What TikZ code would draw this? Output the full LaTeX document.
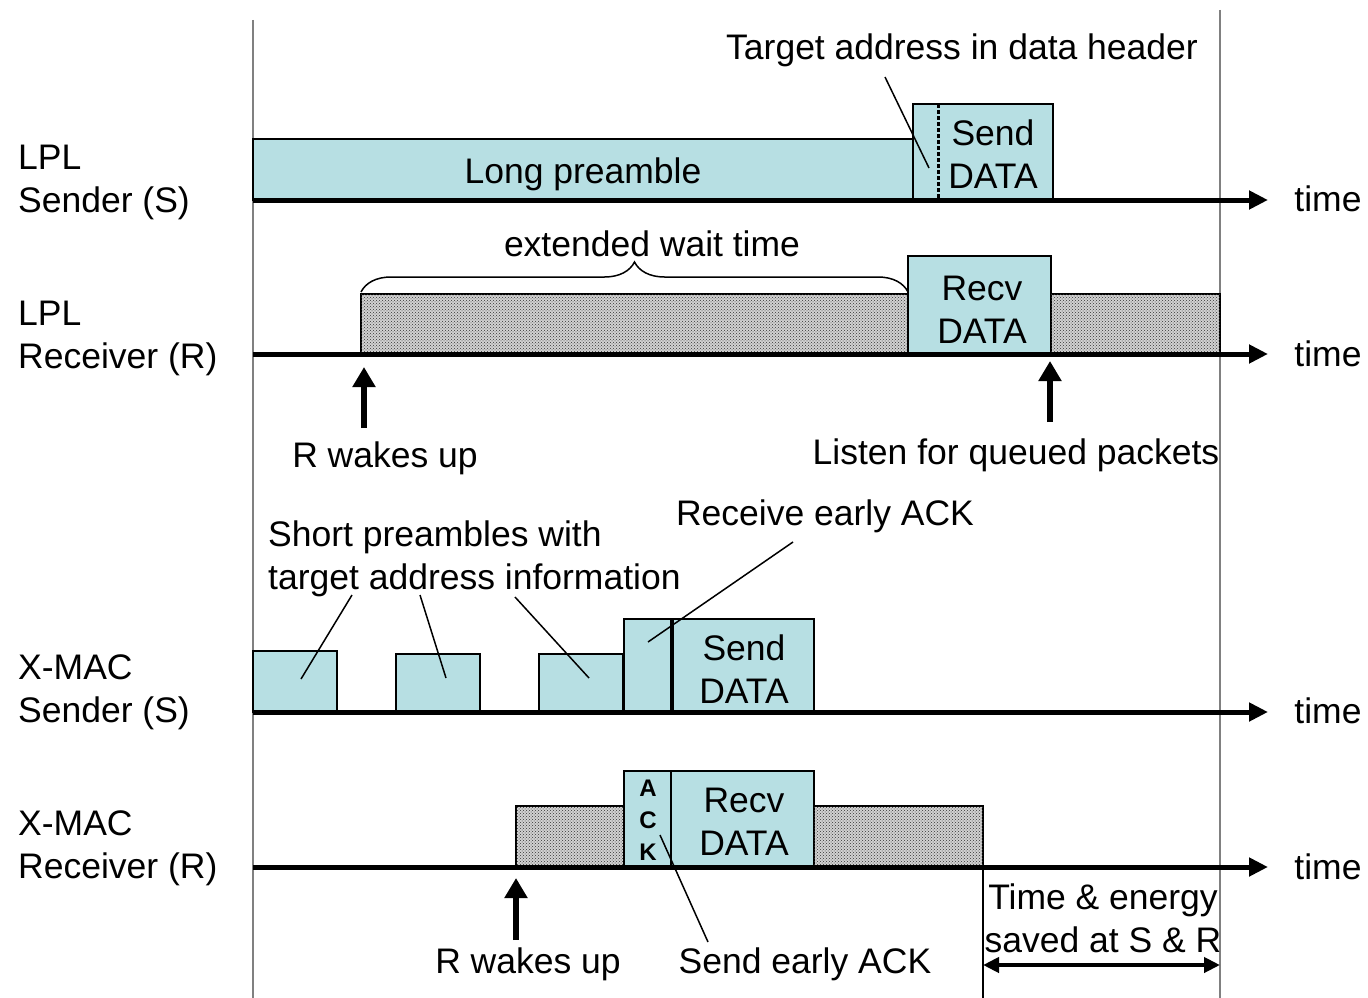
\documentclass[tikz,border=0pt]{standalone}
\usepackage{fontspec}
\setmainfont{Liberation Sans}
\usetikzlibrary{arrows.meta,decorations.pathreplacing,patterns}
\definecolor{boxblue}{RGB}{183,223,227}
\definecolor{guide}{RGB}{128,128,128}

\begin{document}
\begin{tikzpicture}[x=1pt, y=-1pt,
    font=\fontsize{35.5}{43}\selectfont,
    txt/.style={inner sep=0pt, align=center},
    lbl/.style={inner sep=0pt, align=left, anchor=west},
    axis/.style={line width=5pt, -{Triangle[length=19pt,width=18pt]}},
    databox/.style={draw, line width=2.5pt, fill=boxblue},
    idlebox/.style={draw, line width=2.5pt, fill=gray!35, postaction={pattern=crosshatch dots, pattern color=black!80}},
    wake/.style={line width=6pt, -{Triangle[length=20pt,width=22pt]}},
    leader/.style={line width=1.5pt},
    guideline/.style={draw=guide, line width=2pt}]
    \useasboundingbox (0,0) rectangle (1368,998);

    % guide lines
    \coordinate (ga) at (253,20);
    \coordinate (gb) at (253,998);
    \coordinate (gc) at (1220,10);
    \coordinate (gd) at (1220,998);
    \draw[guideline] (ga) -- (gb);
    \draw[guideline] (gc) -- (gd);

    % LPL sender
    \draw[databox] (253,139) rectangle (913,200);
    \draw[databox] (913,104) rectangle (1053,200);
    \draw[line width=3pt, dash pattern=on 4pt off 2pt] (938,104) -- (938,200);
    \node[txt] (pre) at (583,174) {Long preamble};
    \node[txt] (sd1) at (993,154) {Send\\DATA};
    \node[txt] (hdrtxt) at (962,50) {Target address in data header};
    \coordinate (hdr0) at (885,77);
    \coordinate (hdr1) at (929,168);
    \draw[leader] (hdr0) -- (hdr1);

    % LPL receiver
    \draw[idlebox] (361,294) rectangle (908,354);
    \draw[databox] (908,256) rectangle (1051,354);
    \draw[idlebox] (1051,294) rectangle (1220,354);
    \node[txt] (rd1) at (982,310) {Recv\\DATA};
    \coordinate (br0) at (361,292);
    \coordinate (br1) at (908,292);
    \draw[line width=1.5pt, decorate, decoration={brace, amplitude=30pt}] (br0) -- (br1);
    \node[txt] (ext) at (652,244) {extended wait time};
    \coordinate (wa0) at (364,428);
    \coordinate (wa1) at (364,367);
    \draw[wake] (wa0) -- (wa1);
    \node[txt] (wk1) at (385,458) {R wakes up};
    \coordinate (lq0) at (1050,422);
    \coordinate (lq1) at (1050,361);
    \draw[wake] (lq0) -- (lq1);
    \node[txt] (lq) at (1016,455) {Listen for queued packets};

    % X-MAC sender
    \draw[databox] (253,651) rectangle (337,712);
    \draw[databox] (396,654) rectangle (480,712);
    \draw[databox] (539,654) rectangle (623,712);
    \draw[databox] (624,619) rectangle (672,712);
    \draw[databox] (672,619) rectangle (814,712);
    \draw[line width=4pt] (672,619) -- (672,712);
    \node[txt] (sd2) at (744,669) {Send\\DATA};
    \node[lbl] (sp) at (268,559) {Short preambles with\\target address information};
    \coordinate (sp1) at (352,595);
    \coordinate (sp2) at (420,595);
    \coordinate (sp3) at (515,597);
    \coordinate (pa) at (301,679);
    \coordinate (pb) at (446,678);
    \coordinate (pc) at (589,678);
    \draw[leader] (sp1) -- (pa);
    \draw[leader] (sp2) -- (pb);
    \draw[leader] (sp3) -- (pc);
    \node[txt] (rea) at (825,516) {Receive early ACK};
    \coordinate (rea0) at (793,542);
    \coordinate (rea1) at (648,642);
    \draw[leader] (rea0) -- (rea1);

    % X-MAC receiver
    \draw[idlebox] (516,806) rectangle (624,867);
    \draw[databox] (624,771) rectangle (671,867);
    \draw[databox] (671,771) rectangle (814,867);
    \draw[idlebox] (814,806) rectangle (983,867);
    \node[txt, font=\fontsize{24}{32}\selectfont\bfseries] (ack) at (648,820) {A\\C\\K};
    \node[txt] (rd2) at (744,822) {Recv\\DATA};
    \coordinate (wb0) at (516,940);
    \coordinate (wb1) at (516,878);
    \draw[wake] (wb0) -- (wb1);
    \node[txt] (wk2) at (528,964) {R wakes up};
    \node[txt] (sea) at (805,964) {Send early ACK};
    \coordinate (sea0) at (708,942);
    \coordinate (sea1) at (660,835);
    \draw[leader] (sea0) -- (sea1);
    \coordinate (sv) at (983,867);
    \coordinate (svb) at (983,998);
    \draw[line width=2pt] (sv) -- (svb);
    \node[txt] (save) at (1103,918) {Time \& energy\\saved at S \& R};
    \coordinate (sv0) at (983,965);
    \coordinate (sv1) at (1220,965);
    \draw[line width=4pt, {Triangle[length=16pt,width=15pt]}-{Triangle[length=16pt,width=15pt]}] (sv0) -- (sv1);

    % time axes
    \coordinate (a0) at (253,200);
    \coordinate (a1) at (1268,200);
    \coordinate (b0) at (253,354);
    \coordinate (b1) at (1268,354);
    \coordinate (c0) at (253,712);
    \coordinate (c1) at (1268,712);
    \coordinate (d0) at (253,867);
    \coordinate (d1) at (1268,867);
    \draw[axis] (a0) -- (a1);
    \draw[axis] (b0) -- (b1);
    \draw[axis] (c0) -- (c1);
    \draw[axis] (d0) -- (d1);
    \node[txt] (t1) at (1328,199) {time};
    \node[txt] (t2) at (1328,354) {time};
    \node[txt] (t3) at (1328,711) {time};
    \node[txt] (t4) at (1328,867) {time};

    % row labels
    \node[lbl] (lpls) at (18,182) {LPL\\Sender (S)};
    \node[lbl] (lplr) at (18,338) {LPL\\Receiver (R)};
    \node[lbl] (xms) at (18,692) {X-MAC\\Sender (S)};
    \node[lbl] (xmr) at (18,848) {X-MAC\\Receiver (R)};
\end{tikzpicture}
\end{document}
